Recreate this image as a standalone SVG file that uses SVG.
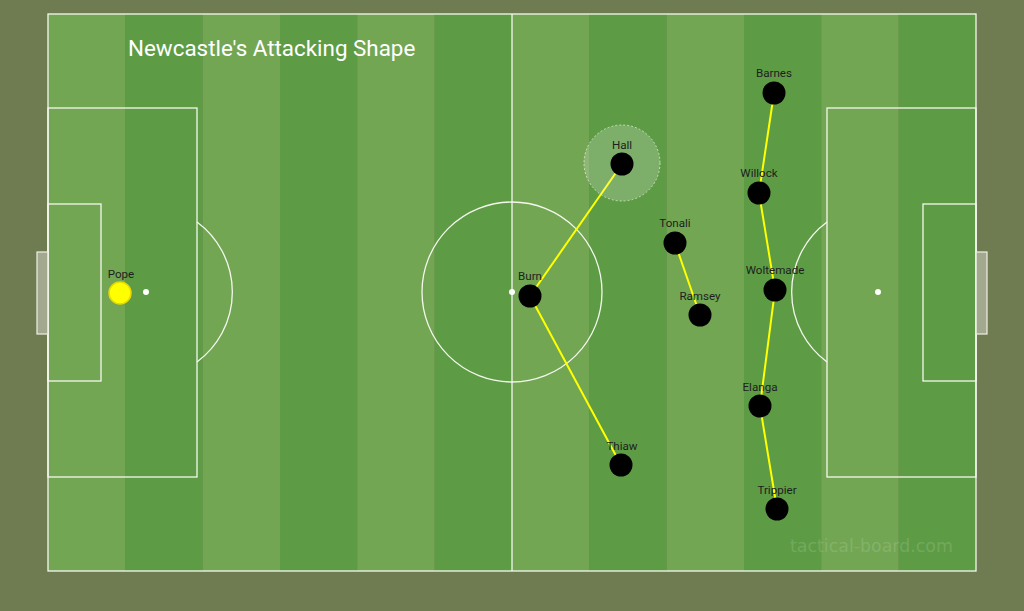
<svg xmlns="http://www.w3.org/2000/svg" width="1024" height="611" viewBox="0 0 1024 611">
<style>
.ln{fill:none;stroke:#f4f8ee;stroke-width:1.3}
.lt{fill:#72a653}
.dk{fill:#5d9c45}
.pl{fill:#000}
.lbl{font-family:Roboto,"Liberation Sans",sans-serif;font-size:11.6px;fill:#1e1e1e;text-anchor:middle}
.con{stroke:#ffff00;stroke-width:2;fill:none}
.goal{fill:#b4b8a4;fill-opacity:0.75;stroke:#eef0e6;stroke-width:1.2}
</style>
<rect x="0" y="0" width="1024" height="611" fill="#6f7c52"/>
<g id="pitch">
<rect class="lt" x="48" y="14" width="77.4" height="557"/>
<rect class="dk" x="125.3" y="14" width="77.4" height="557"/>
<rect class="lt" x="202.7" y="14" width="77.4" height="557"/>
<rect class="dk" x="280" y="14" width="77.4" height="557"/>
<rect class="lt" x="357.3" y="14" width="77.4" height="557"/>
<rect class="dk" x="434.7" y="14" width="77.4" height="557"/>
<rect class="lt" x="512" y="14" width="77.4" height="557"/>
<rect class="dk" x="589.3" y="14" width="77.4" height="557"/>
<rect class="lt" x="666.7" y="14" width="77.4" height="557"/>
<rect class="dk" x="744" y="14" width="77.4" height="557"/>
<rect class="lt" x="821.3" y="14" width="77.4" height="557"/>
<rect class="dk" x="898.7" y="14" width="77.3" height="557"/>
<rect class="ln" x="48" y="14" width="928" height="557"/>
<line class="ln" x1="512" y1="14" x2="512" y2="571"/>
<circle class="ln" cx="512" cy="292" r="90"/>
<circle cx="512" cy="292" r="3" fill="#fff"/>
<rect class="ln" x="48" y="108" width="149" height="369"/>
<rect class="ln" x="48" y="204" width="53" height="177"/>
<circle cx="146" cy="292" r="3" fill="#fff"/>
<path class="ln" d="M197 222 A87 87 0 0 1 197 362"/>
<rect class="ln" x="827" y="108" width="149" height="369"/>
<rect class="ln" x="923" y="204" width="53" height="177"/>
<circle cx="878" cy="292" r="3" fill="#fff"/>
<path class="ln" d="M827 222 A87 87 0 0 0 827 362"/>
<rect class="goal" x="37" y="252" width="11" height="82"/>
<rect class="goal" x="976" y="252" width="11" height="82"/>
</g>
<text x="128" y="56" font-family="Roboto,'Liberation Sans',sans-serif" font-size="22.4" fill="#fff">Newcastle's Attacking Shape</text>
<text x="790" y="552" font-family="'DejaVu Sans',sans-serif" font-size="17.4" fill="#ffffff" fill-opacity="0.15">tactical-board.com</text>
<g id="connectors">
<line class="con" x1="530" y1="296" x2="622" y2="164"/>
<line class="con" x1="530" y1="296" x2="621" y2="465"/>
<line class="con" x1="675" y1="243" x2="700" y2="315"/>
<polyline class="con" points="774,93 759,193 775,290 760,406 777,509"/>
</g>
<g id="highlight-hall">
<circle cx="622" cy="163" r="38" fill="#ffffff" fill-opacity="0.2" stroke="#ffffff" stroke-opacity="0.6" stroke-dasharray="2,2" stroke-width="1"/>
</g>
<g id="pope"><circle cx="120" cy="293" r="11" fill="#ffff00" stroke="#e6d800" stroke-width="1.5"/><text class="lbl" x="121" y="278">Pope</text></g>
<g id="hall"><circle class="pl" cx="622" cy="164" r="11.5"/><text class="lbl" x="622" y="149">Hall</text></g>
<g id="burn"><circle class="pl" cx="530" cy="296" r="11.5"/><text class="lbl" x="530" y="280">Burn</text></g>
<g id="thiaw"><circle class="pl" cx="621" cy="465" r="11.5"/><text class="lbl" x="622" y="450">Thiaw</text></g>
<g id="tonali"><circle class="pl" cx="675" cy="243" r="11.5"/><text class="lbl" x="675" y="227">Tonali</text></g>
<g id="ramsey"><circle class="pl" cx="700" cy="315" r="11.5"/><text class="lbl" x="700" y="300">Ramsey</text></g>
<g id="barnes"><circle class="pl" cx="774" cy="93" r="11.5"/><text class="lbl" x="774" y="77">Barnes</text></g>
<g id="willock"><circle class="pl" cx="759" cy="193" r="11.5"/><text class="lbl" x="759" y="177">Willock</text></g>
<g id="woltemade"><circle class="pl" cx="775" cy="290" r="11.5"/><text class="lbl" x="775" y="274">Woltemade</text></g>
<g id="elanga"><circle class="pl" cx="760" cy="406" r="11.5"/><text class="lbl" x="760" y="391">Elanga</text></g>
<g id="trippier"><circle class="pl" cx="777" cy="509" r="11.5"/><text class="lbl" x="777" y="494">Trippier</text></g>
</svg>
